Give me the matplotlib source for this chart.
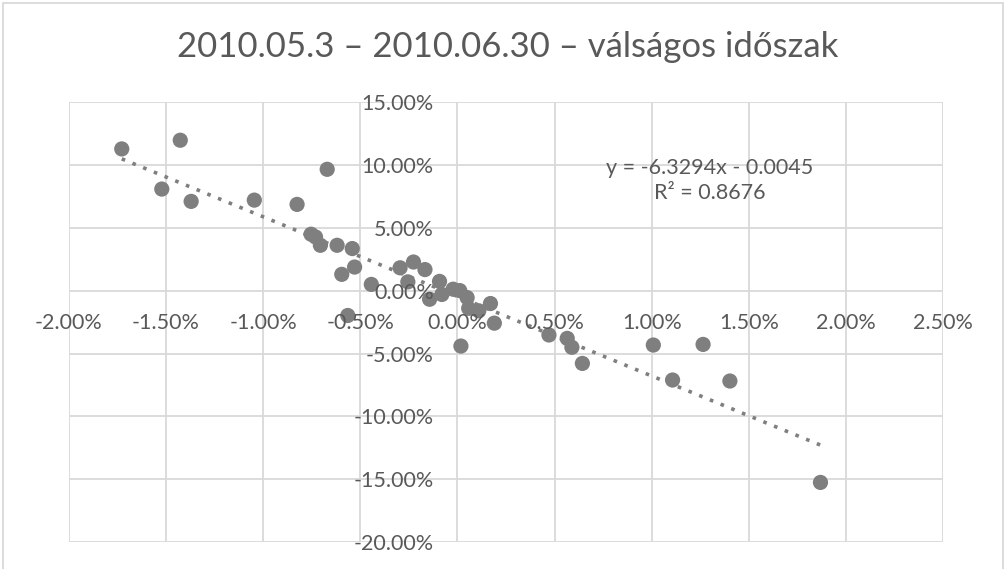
import matplotlib
matplotlib.use('Agg')
import matplotlib.pyplot as plt
from matplotlib.patches import Rectangle
from matplotlib.ticker import PercentFormatter
import numpy as np

title = '2010.05.3 – 2010.06.30 – válságos időszak'

# daily returns (x: index, y: asset)
x_vals = [-0.01727, -0.01426, -0.01521, -0.01370, -0.01045, -0.00825, -0.00670,
          -0.00753, -0.00730, -0.00705, -0.00619, -0.00541, -0.00529, -0.00595,
          -0.00443, -0.00564, -0.00295, -0.00226, -0.00167, -0.00255, -0.00092,
          -0.00143, -0.00080, -0.00022, 0.00012, 0.00050, 0.00058, 0.00110,
          0.00170, 0.00190, 0.00018, 0.00471, 0.00565, 0.00589, 0.00643,
          0.01008, 0.01107, 0.01264, 0.01402, 0.01868]
y_vals = [0.1127, 0.1196, 0.0808, 0.0710, 0.0720, 0.0686, 0.0965,
          0.0449, 0.0427, 0.0361, 0.0361, 0.0335, 0.0188, 0.0130,
          0.0050, -0.0197, 0.0182, 0.0228, 0.0168, 0.0070, 0.0074,
          -0.0068, -0.0030, 0.0012, 0.0001, -0.0055, -0.0140, -0.0160,
          -0.0102, -0.0258, -0.0440, -0.0352, -0.0379, -0.0450, -0.0578,
          -0.0432, -0.0710, -0.0427, -0.0718, -0.1524]

slope = -6.3294
intercept = -0.0045
r2 = 0.8676

x_ticks = [-0.02, -0.015, -0.01, -0.005, 0.0, 0.005, 0.01, 0.015, 0.02, 0.025]
y_ticks = [-0.20, -0.15, -0.10, -0.05, 0.0, 0.05, 0.10, 0.15]

txt = '#595959'
grid_c = '#d9d9d9'
pt_c = '#7f7f7f'

plt.rcParams['font.family'] = ['Lato', 'DejaVu Sans']
plt.rcParams['axes.unicode_minus'] = False

fig = plt.figure(figsize=(10.08, 5.69), dpi=100)
ax = fig.add_axes([68.7 / 1008, 1 - 542.3 / 569, (943.3 - 68.7) / 1008, (542.3 - 102) / 569])

ax.set_xlim(-0.02, 0.025)
ax.set_ylim(-0.20, 0.15)
ax.set_xticks(x_ticks)
ax.set_yticks(y_ticks)
ax.xaxis.set_major_formatter(PercentFormatter(1.0, decimals=2))
ax.yaxis.set_major_formatter(PercentFormatter(1.0, decimals=2))

# grid drawn under the points, tick labels kept on top (as Excel does)
for v in x_ticks:
    ax.axvline(v, color=grid_c, linewidth=1.3, zorder=0)
for v in y_ticks:
    ax.axhline(v, color=grid_c, linewidth=1.3, zorder=0)
ax.xaxis.set_zorder(5)
ax.yaxis.set_zorder(5)

for s in ['top', 'right', 'left', 'bottom']:
    ax.spines[s].set_visible(False)
ax.spines['left'].set_position(('data', 0))
ax.spines['bottom'].set_position(('data', 0))
ax.tick_params(length=0, labelsize=15.5, labelcolor=txt)
ax.tick_params(axis='y', pad=17)
ax.tick_params(axis='x', pad=16)

ax.scatter(x_vals, y_vals, s=120, color=pt_c, edgecolors='none', zorder=3)

tx = np.array([min(x_vals), max(x_vals)])
ax.plot(tx, slope * tx + intercept, linestyle=(0, (1, 2.2)), linewidth=2.6,
        color=pt_c, zorder=4)

eq = 'y = %.4fx - %.4f\nR² = %.4f' % (slope, -intercept, r2)
ax.text(0.01300, 0.0875, eq, ha='center', va='center', fontsize=15.5,
        color=txt, linespacing=1.3, zorder=6)

fig.text(508 / 1008, 1 - 47 / 569, title, ha='center', va='center',
         fontsize=25, color=txt)

fig.patches.append(Rectangle((3 / 1008, -0.1), 1000 / 1008, 1.1 - 3 / 569,
                             transform=fig.transFigure, fill=False,
                             edgecolor=grid_c, linewidth=1.3))

fig.savefig('out.png', dpi=100)
